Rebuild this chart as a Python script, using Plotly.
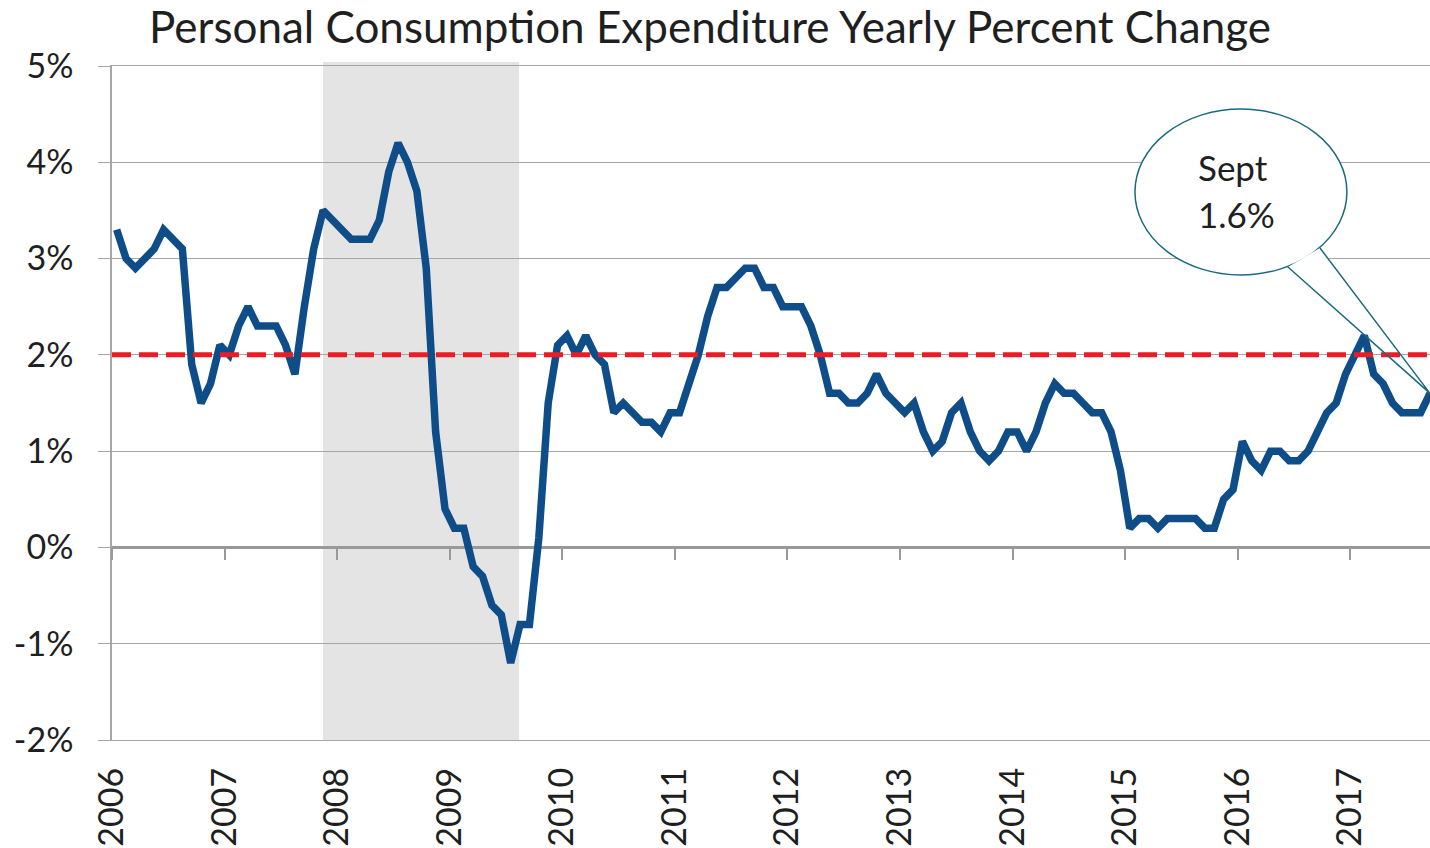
import plotly.graph_objects as go

# ---------------- data ----------------
years = [str(y) for y in range(2006, 2018)]
pce_yoy = [
    3.3, 3.0, 2.9, 3.0, 3.1, 3.3, 3.2, 3.1, 1.9, 1.5, 1.7, 2.1,   # 2006
    2.0, 2.3, 2.5, 2.3, 2.3, 2.3, 2.1, 1.8, 2.5, 3.1, 3.5, 3.4,   # 2007
    3.3, 3.2, 3.2, 3.2, 3.4, 3.9, 4.2, 4.0, 3.7, 2.9, 1.2, 0.4,   # 2008
    0.2, 0.2, -0.2, -0.3, -0.6, -0.7, -1.2, -0.8, -0.8, 0.1, 1.5, 2.1,  # 2009
    2.2, 2.0, 2.2, 2.0, 1.9, 1.4, 1.5, 1.4, 1.3, 1.3, 1.2, 1.4,   # 2010
    1.4, 1.7, 2.0, 2.4, 2.7, 2.7, 2.8, 2.9, 2.9, 2.7, 2.7, 2.5,   # 2011
    2.5, 2.5, 2.3, 2.0, 1.6, 1.6, 1.5, 1.5, 1.6, 1.8, 1.6, 1.5,   # 2012
    1.4, 1.5, 1.2, 1.0, 1.1, 1.4, 1.5, 1.2, 1.0, 0.9, 1.0, 1.2,   # 2013
    1.2, 1.0, 1.2, 1.5, 1.7, 1.6, 1.6, 1.5, 1.4, 1.4, 1.2, 0.8,   # 2014
    0.2, 0.3, 0.3, 0.2, 0.3, 0.3, 0.3, 0.3, 0.2, 0.2, 0.5, 0.6,   # 2015
    1.1, 0.9, 0.8, 1.0, 1.0, 0.9, 0.9, 1.0, 1.2, 1.4, 1.5, 1.8,   # 2016
    2.0, 2.2, 1.8, 1.7, 1.5, 1.4, 1.4, 1.4, 1.6,                  # 2017 (Jan-Sep)
]
months = list(range(len(pce_yoy)))          # month index, 0 = Jan 2006
target_rate = 2.0
recession_start = 22.0                       # month index (late 2007)
recession_end = 42.9                         # month index (mid 2009)
y_ticks = [-2, -1, 0, 1, 2, 3, 4, 5]
y_tick_text = [f"{v}%" for v in y_ticks]
callout_lines = ["Sept", "1.6%"]

# ---------------- styling ----------------
FONT = "Lato"
BLUE = "#0f4d89"
RED = "#ed1c24"
GRID = "#a6a6a6"
TEAL = "#1a6a7e"
TXT = "#1f1f1f"

year_ticks = [12 * k - 0.5 for k in range(len(years))]
x_range = [-0.5, len(pce_yoy) - 1]

fig = go.Figure()

fig.add_trace(go.Scatter(
    x=months, y=pce_yoy, mode="lines",
    line=dict(color=BLUE, width=7.5), hoverinfo="skip", showlegend=False,
))
fig.add_trace(go.Scatter(
    x=[x_range[0], x_range[1]], y=[target_rate, target_rate], mode="lines",
    line=dict(color=RED, width=5, dash="19px,8px"),
    xaxis="x2", hoverinfo="skip", showlegend=False,
))

# recession shading
fig.add_shape(type="rect", xref="x", yref="paper",
              x0=recession_start, x1=recession_end, y0=0, y1=1.006,
              fillcolor="#e4e4e4", line_width=0, layer="below")

# callout bubble
last_x = months[-1]
last_y = pce_yoy[-1]
ex0, ex1, ey0, ey1 = 108.55, 131.14, 2.83, 4.553
p1 = (124.86, 2.913)
p2 = (128.27, 3.110)
fig.add_shape(type="circle", xref="x", yref="y", x0=ex0, x1=ex1, y0=ey0, y1=ey1,
              fillcolor="white", line=dict(color=TEAL, width=1.5), layer="above")
f = 0.12
q1 = (p1[0] + f * (last_x - p1[0]), p1[1] + f * (last_y - p1[1]))
q2 = (p2[0] + f * (last_x - p2[0]), p2[1] + f * (last_y - p2[1]))
fig.add_shape(type="path", xref="x", yref="y",
              path=f"M {p1[0]},{p1[1]} L {q1[0]},{q1[1]} L {q2[0]},{q2[1]} L {p2[0]},{p2[1]} Z",
              fillcolor="white", line=dict(width=0), layer="above")
fig.add_shape(type="path", xref="x", yref="y",
              path=f"M {p1[0]},{p1[1]} L {last_x},{last_y} L {p2[0]},{p2[1]}",
              fillcolor="rgba(0,0,0,0)", line=dict(color=TEAL, width=1.5), layer="above")
fig.add_annotation(x=119.0, y=3.95, xref="x", yref="y", text=callout_lines[0],
                   showarrow=False, font=dict(family=FONT, size=35, color=TXT))
fig.add_annotation(x=119.4, y=3.46, xref="x", yref="y", text=callout_lines[1],
                   showarrow=False, font=dict(family=FONT, size=35, color=TXT))

fig.update_layout(
    width=1430, height=848,
    margin=dict(l=112, r=0, t=66, b=108),
    paper_bgcolor="white", plot_bgcolor="white",
    font=dict(family=FONT, color=TXT),
    title=dict(text="Personal Consumption Expenditure Yearly Percent Change",
               x=0.4965, xanchor="center", xref="container",
               y=1 - 28 / 848, yanchor="middle", yref="container",
               font=dict(family=FONT, size=44, color=TXT)),
    xaxis=dict(range=x_range, tickmode="array", tickvals=year_ticks, ticktext=years,
               tickangle=-90, ticks="", showgrid=False, zeroline=False,
               showline=True, linecolor=GRID, linewidth=1.3, mirror=True,
               tickfont=dict(family=FONT, size=34, color=TXT),
               ticklabelstandoff=13, fixedrange=True, automargin=False),
    xaxis2=dict(range=x_range, overlaying="x", anchor="free", position=2 / 7,
                side="bottom", tickmode="array", tickvals=year_ticks,
                ticks="outside", ticklen=12, tickwidth=1.5, tickcolor="#999999",
                showticklabels=False, showgrid=False, zeroline=False, showline=False),
    yaxis=dict(range=[-2, 5], tickmode="array", tickvals=y_ticks, ticktext=y_tick_text,
               showgrid=True, gridcolor=GRID, gridwidth=1.3,
               zeroline=True, zerolinecolor="#999999", zerolinewidth=2.5,
               showline=True, linecolor=GRID, linewidth=1.5,
               ticks="outside", ticklen=12, tickcolor=GRID, tickwidth=1.3,
               tickfont=dict(family=FONT, size=34, color=TXT),
               ticklabelstandoff=18, automargin=False),
)

fig.write_html(
    "out.html",
    config={"displayModeBar": False},
    post_script="document.body.style.margin='0';document.body.style.overflow='hidden';",
)
